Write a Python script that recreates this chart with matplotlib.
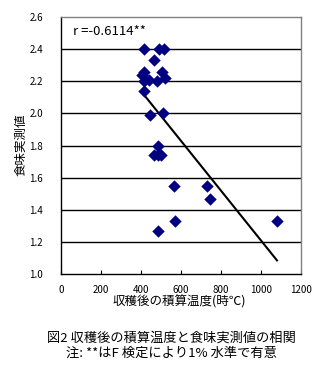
import numpy as np
import matplotlib
matplotlib.use("Agg")
import matplotlib.pyplot as plt

plt.rcParams['font.family'] = ['Noto Sans CJK JP', 'DejaVu Sans']

# data
heat_sum = [415, 492, 515, 465, 413, 507, 403, 413, 441, 482, 518, 417, 445, 512,
            483, 465, 483, 502, 565, 732, 743, 570, 483, 1080]
taste = [2.40, 2.40, 2.40, 2.33, 2.26, 2.26, 2.24, 2.20, 2.21, 2.20, 2.22, 2.14, 1.99, 2.00,
         1.80, 1.74, 1.74, 1.74, 1.55, 1.55, 1.47, 1.33, 1.27, 1.33]
x_ticks = [0, 200, 400, 600, 800, 1000, 1200]
y_ticks = [1.0, 1.2, 1.4, 1.6, 1.8, 2.0, 2.2, 2.4, 2.6]
r_text = "r =-0.6114**"
xlabel = "収穫後の積算温度(時℃)"
ylabel = "食味実測値"
caption1 = "図2 収穫後の積算温度と食味実測値の相関"
caption2 = "注: **はF 検定により1% 水準で有意"

x = np.array(heat_sum, dtype=float)
y = np.array(taste, dtype=float)
slope, intercept = np.polyfit(x, y, 1)

fig = plt.figure(figsize=(3.30, 3.71), dpi=100)
ax = fig.add_axes([61/330, 1 - 274/371, 240/330, 257/371])

ax.set_xlim(0, 1200)
ax.set_ylim(1.0, 2.6)
for yt in y_ticks[1:-1]:
    ax.axhline(yt, color='black', lw=1.0, zorder=1)

xs = np.array([x.min(), x.max()])
ax.plot(xs, slope * xs + intercept, color='black', lw=1.5, zorder=2)
ax.scatter(x, y, marker='D', s=40, color='#000080', zorder=3, linewidths=0)

ax.set_xticks(x_ticks)
ax.set_xticklabels([str(v) for v in x_ticks], fontsize=7)
ax.set_yticks(y_ticks)
ax.set_yticklabels([f"{v:.1f}" for v in y_ticks], fontsize=7)
ax.tick_params(axis='x', direction='in', length=3, pad=8, color='black')
ax.tick_params(axis='y', length=0, pad=13)

for s in ['left', 'bottom']:
    ax.spines[s].set_color('black')
    ax.spines[s].set_linewidth(1.0)
for s in ['top', 'right']:
    ax.spines[s].set_color('#808080')
    ax.spines[s].set_linewidth(1.0)

ax.text(0.05, 0.945, r_text, transform=ax.transAxes, fontsize=9.5, va='center', ha='left')

fig.text(21/330, 1 - 145/371, ylabel, rotation=90, fontsize=9, ha='center', va='center')
fig.text(179/330, 1 - 302/371, xlabel, fontsize=9, ha='center', va='center')
fig.text(171/330, 1 - 338/371, caption1, fontsize=9.5, ha='center', va='center')
fig.text(171/330, 1 - 353/371, caption2, fontsize=9.5, ha='center', va='center')

fig.savefig("out.png", dpi=100)
